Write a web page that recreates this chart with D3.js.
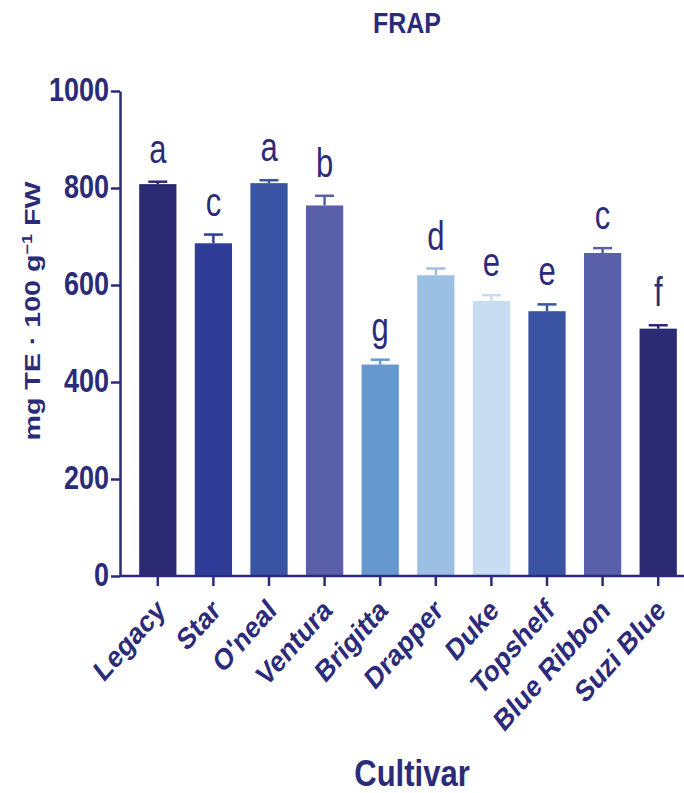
<!DOCTYPE html>
<html>
<head>
<meta charset="utf-8">
<script src="https://cdn.jsdelivr.net/npm/d3@7"></script>
<style>
  body { margin: 0; background: #fff; }
  text { font-family: 'Liberation Sans', Arial, sans-serif; }
</style>
</head>
<body>
<svg id="chart" width="684" height="793"></svg>
<script>
const cultivars = ['Legacy', 'Star', "O'neal", 'Ventura', 'Brigitta', 'Drapper', 'Duke', 'Topshelf', 'Blue Ribbon', 'Suzi Blue'];
const frap = [808, 686, 810, 764, 436, 620, 567, 546, 666, 510];
const frapErr = [5, 18, 6, 20, 10, 14, 12, 14, 10, 7];
const letters = ['a', 'c', 'a', 'b', 'g', 'd', 'e', 'e', 'c', 'f'];
const barColors = ['#2b2a72', '#2e3c98', '#3a54a4', '#5a5fa9', '#6698d0', '#9bc0e4', '#c8ddf1', '#3a54a3', '#5a5fa9', '#2b2a72'];
const yTicks = [0, 200, 400, 600, 800, 1000];

const INK = '#2b2b7a';
const K = 1.2; // the figure is drawn a little taller than wide, so text is stretched vertically
const svg = d3.select('#chart');

const x = d3.scaleBand()
  .domain(cultivars)
  .range([130, 686])
  .paddingInner(0.33)
  .paddingOuter(0.165);

const y = d3.scaleLinear().domain([0, 1000]).range([576, 91]);

// bars
svg.selectAll('.bar')
  .data(cultivars)
  .enter()
  .append('rect')
  .attr('class', 'bar')
  .attr('x', d => x(d))
  .attr('y', (d, i) => y(frap[i]))
  .attr('width', x.bandwidth())
  .attr('height', (d, i) => y(0) - y(frap[i]))
  .attr('fill', (d, i) => barColors[i]);

// error bars (upper only), same colour as bar
const err = svg.append('g');
cultivars.forEach((c, i) => {
  const cx = x(c) + x.bandwidth() / 2;
  err.append('line')
    .attr('x1', cx).attr('x2', cx)
    .attr('y1', y(frap[i])).attr('y2', y(frap[i] + frapErr[i]))
    .attr('stroke', barColors[i]).attr('stroke-width', 2.5);
  err.append('line')
    .attr('x1', cx - 9.5).attr('x2', cx + 9.5)
    .attr('y1', y(frap[i] + frapErr[i])).attr('y2', y(frap[i] + frapErr[i]))
    .attr('stroke', barColors[i]).attr('stroke-width', 2.5);
});

// significance letters
svg.selectAll('.sig')
  .data(cultivars)
  .enter()
  .append('text')
  .attr('class', 'sig')
  .attr('transform', (d, i) => `translate(${x(d) + x.bandwidth() / 2}, ${y(frap[i] + frapErr[i]) - 19}) scale(1, 1.3)`)
  .attr('text-anchor', 'middle')
  .attr('font-size', 31)
  .attr('fill', INK)
  .text((d, i) => letters[i]);

// y axis
const yAxis = svg.append('g').attr('transform', 'translate(120, 0)');
yAxis.call(d3.axisLeft(y).tickValues(d3.range(0, 1001, 40)).tickFormat('').tickSize(6).tickSizeOuter(0));
yAxis.call(d3.axisLeft(y).tickValues(yTicks).tickFormat(d3.format('d')).tickSize(9).tickSizeOuter(0).tickPadding(3));
yAxis.selectAll('path, line').attr('stroke', INK).attr('stroke-width', 2.5);
yAxis.selectAll('.tick text')
  .attr('fill', INK)
  .attr('font-size', 27)
  .attr('font-weight', 'bold')
  .attr('font-family', "'Liberation Sans', Arial, sans-serif")
  .attr('x', null)
  .attr('dy', null)
  .attr('transform', `translate(-11, 9) scale(1, ${K})`);

// x axis
const xAxis = svg.append('g').attr('transform', `translate(0, ${y(0)})`);
xAxis.call(d3.axisBottom(x).tickSize(10).tickSizeOuter(0).tickFormat(''));
xAxis.select('.domain').attr('d', 'M120,0H684');
xAxis.selectAll('path, line').attr('stroke', INK).attr('stroke-width', 2.5);

svg.selectAll('.xlab')
  .data(cultivars)
  .enter()
  .append('text')
  .attr('class', 'xlab')
  .attr('transform', d => `translate(${x(d) + x.bandwidth() / 2 - 4}, 596) scale(1, ${K}) rotate(-43)`)
  .attr('text-anchor', 'end')
  .attr('dy', '0.75em')
  .attr('font-size', 25)
  .attr('font-weight', 'bold')
  .attr('fill', INK)
  .text(d => d);

// titles
svg.append('text')
  .attr('transform', `translate(407, 33) scale(1, ${K})`)
  .attr('text-anchor', 'middle')
  .attr('font-size', 25)
  .attr('font-weight', 'bold')
  .attr('fill', INK)
  .text('FRAP');

svg.append('text')
  .attr('transform', `translate(412, 786) scale(1, ${K})`)
  .attr('text-anchor', 'middle')
  .attr('font-size', 31)
  .attr('font-weight', 'bold')
  .attr('fill', INK)
  .text('Cultivar');

const yTitle = svg.append('text')
  .attr('transform', 'translate(40, 311) scale(1, 1.3) rotate(-90)')
  .attr('text-anchor', 'middle')
  .attr('font-size', 22)
  .attr('font-weight', 'bold')
  .attr('fill', INK);
yTitle.append('tspan').text('mg TE · 100 g');
yTitle.append('tspan').attr('dy', -8).attr('font-size', 14).text('−1');
yTitle.append('tspan').attr('dy', 8).text(' FW');
</script>
</body>
</html>
